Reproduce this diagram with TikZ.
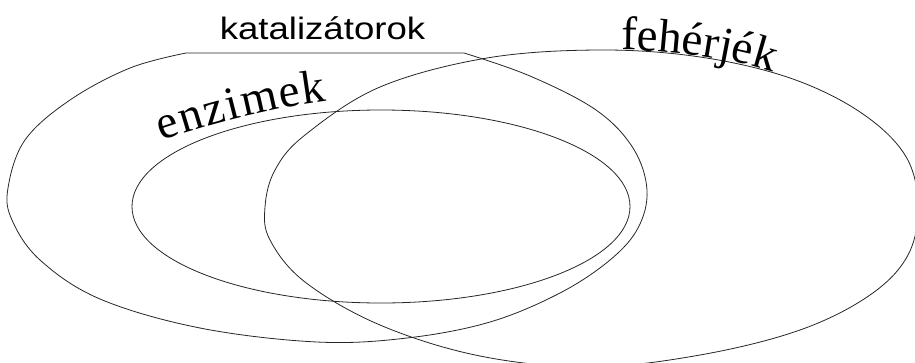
\documentclass[tikz,border=0pt]{standalone}
\usepackage{fontspec}
\setmainfont{Liberation Serif}
\newfontfamily\arialf{Liberation Sans}
\usetikzlibrary{decorations.text}
\newcommand\enzfont{\fontsize{47}{47}\selectfont}
\newcommand\fehfont{\fontsize{47}{47}\selectfont}
\begin{document}
\begin{tikzpicture}[x=1pt,y=1pt,
  outline/.style={draw=black!85, line width=0.8pt}]
\useasboundingbox (0,0) rectangle (915,-362);
\clip (0,0) rectangle (915,-362);
% katalizatorok (big left shape, flat top)
\draw[outline] plot[smooth,tension=0.6] coordinates {
 (464,-53) (530,-76) (596,-110) (633,-148) (647,-190) (638,-228) (610,-260)
 (560,-293) (490,-322) (407,-338) (317,-342) (200,-328) (100,-299) (40,-260)
 (12,-220) (8,-188) (25,-140) (70,-100) (130,-68) (186,-53)} -- cycle;
% enzimek (inner ellipse)
\draw[outline] (381,-206.5) ellipse [x radius=249, y radius=96.5];
% feherjek (right shape)
\draw[outline] plot[smooth cycle,tension=0.6] coordinates {
 (600,-50) (700,-57) (790,-78) (860,-112) (905,-155) (918,-205) (908,-255)
 (870,-295) (800,-330) (700,-355) (590,-367) (480,-356) (380,-325) (305,-282)
 (270,-240) (265,-207) (275,-170) (305,-135) (380,-87) (487,-58)};
% labels
\node[anchor=base, inner sep=0pt] (kat) at (322.5,-39)
  {\scalebox{1.18}[1]{\arialf\fontsize{31}{31}\selectfont katalizátorok}};
\begin{scope}
\enzfont
\path[decorate, decoration={text along path, text align={fit to path},
  text={enzimek}}]
  (162,-141) .. controls (212,-124) and (272,-108) .. (327,-101);
\end{scope}
\begin{scope}
\fehfont
\path[decorate, decoration={text along path, text align={fit to path},
  text={fehérjék}}]
  (621,-50) .. controls (671,-50) and (729,-58) .. (772,-72);
\end{scope}
\end{tikzpicture}
\end{document}
